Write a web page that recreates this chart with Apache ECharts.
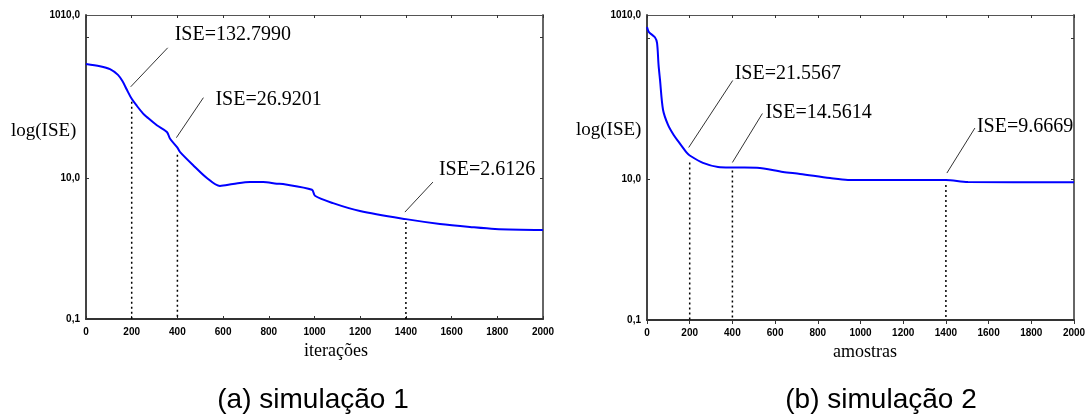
<!doctype html>
<html lang="pt">
<head>
<meta charset="utf-8"/>
<title>log(ISE) — simulação 1 e 2</title>
<style>
  html, body { margin: 0; padding: 0; background: #fff; }
  #chart { width: 1090px; height: 419px; }
</style>
</head>
<body>
<div id="chart"></div>
<script src="https://cdn.jsdelivr.net/npm/echarts@6.0.0/dist/echarts.min.js"></script>
<script>
  // (a) simulação 1 — ISE per iteration
  const iterA = [0, 61, 105, 140, 160, 179, 200, 223, 250, 267, 310, 354, 368, 400, 411,
    468, 529, 586, 643, 718, 775, 835, 862, 989, 1002, 1081, 1199, 1400, 1549, 1680, 1790, 2000];
  const iseA = [414, 385, 350, 290, 235, 178, 132.8, 105, 82, 73, 56, 45, 36, 26.92, 23.5,
    15.3, 10, 7.7, 8.2, 8.8, 8.8, 8.3, 8.2, 6.8, 5.6, 4.4, 3.4, 2.61, 2.23, 2.02, 1.89, 1.83];

  // (b) simulação 2 — ISE per sample
  const sampB = [0, 9, 37, 47, 54, 61, 75, 98, 125, 150, 187, 200, 262, 333, 400, 515,
    637, 717, 857, 941, 1400, 1503, 2000];
  const iseB = [1432, 1216, 1025, 850, 420, 254, 96, 59, 42, 33, 23.4, 21.56, 16.9, 14.8, 14.56, 14.5,
    12.6, 11.8, 10.3, 9.7, 9.67, 9.06, 9.0];

  // annotated points
  const annA_x = [200, 400, 1400];
  const annA_v = [132.7990, 26.9201, 2.6126];
  const annA_txt = ["ISE=132.7990", "ISE=26.9201", "ISE=2.6126"];
  const annB_x = [200, 400, 1400];
  const annB_v = [21.5567, 14.5614, 9.6669];
  const annB_txt = ["ISE=21.5567", "ISE=14.5614", "ISE=9.6669"];

  const yLabelA = [0.1, 10, 2050];
  const yLabelB = [0.1, 10, 2120];
  const yTicks = [10, 1000];

  // pixel offsets for the callouts: [leader start dx,dy, leader end dx,dy, text dx,dy, dotted gap]
  const offA = [[-1, -12, 36, -51, 43, -64, 3], [-1, -10, 26, -50, 38, -48, 7], [-1, -7, 27, -37, 33, -49, 3]];
  const offB = [[-1, -8, 43, -75, 45, -82, 7], [0, -5, 30, -54, 33, -55, 3], [1, -7, 29, -52, 31, -53, 5]];

  const NARROW = '"Liberation Sans Narrow", "Arial Narrow", "Liberation Sans", Arial, sans-serif';
  const SANS = '"Liberation Sans", Arial, sans-serif';
  const SERIF = '"Liberation Serif", "Times New Roman", serif';

  const fmtY = (v) => (v > 1500 ? "1010,0" : Number(v).toFixed(1).replace(".", ","));

  const xBottom = (gi, tickOut) => ({
    type: "value", gridIndex: gi, position: "bottom", min: 0, max: 2000, interval: 200,
    axisLine: { show: true, onZero: false, lineStyle: { color: "#333", width: 2 } },
    axisTick: { show: true, inside: !tickOut, length: tickOut ? 4 : 3, lineStyle: { color: "#333" } },
    axisLabel: { color: "#000", fontFamily: NARROW, fontSize: 10, fontWeight: "bold", margin: 8,
                 formatter: (v) => String(v) },
    splitLine: { show: false },
  });
  const xTop = (gi) => ({
    type: "value", gridIndex: gi, position: "top", min: 0, max: 2000, interval: 200,
    axisLine: { show: true, onZero: false, lineStyle: { color: "#555", width: 1 } },
    axisTick: { show: true, inside: true, length: 3, lineStyle: { color: "#333" } },
    axisLabel: { show: false },
    splitLine: { show: false },
  });
  const yLeft = (gi, max, labels) => ({
    type: "log", logBase: 10, gridIndex: gi, position: "left", min: 0.1, max: max,
    axisLine: { show: true, onZero: false, lineStyle: { color: "#444", width: 2 } },
    axisTick: { show: true, inside: true, length: 3, customValues: yTicks, lineStyle: { color: "#333" } },
    axisLabel: { customValues: labels, formatter: fmtY, color: "#000", fontFamily: SANS,
                 fontSize: 10, fontWeight: "bold", margin: 6 },
    splitLine: { show: false }, minorTick: { show: false },
  });
  const yRight = (gi, max) => ({
    type: "log", logBase: 10, gridIndex: gi, position: "right", min: 0.1, max: max,
    axisLine: { show: true, onZero: false, lineStyle: { color: "#666", width: 2 } },
    axisTick: { show: true, inside: true, length: 3, customValues: yTicks, lineStyle: { color: "#333" } },
    axisLabel: { show: false },
    splitLine: { show: false },
  });

  const pairs = (xs, ys) => xs.map((x, i) => [x, ys[i]]);

  const chart = echarts.init(document.getElementById("chart"));
  chart.setOption({
    animation: false,
    backgroundColor: "#fff",
    grid: [
      { left: 86, top: 15, width: 457, height: 304 },
      { left: 647, top: 15, width: 427, height: 305 },
    ],
    xAxis: [xBottom(0, false), xTop(0), xBottom(1, true), xTop(1)],
    yAxis: [yLeft(0, 2050, yLabelA), yRight(0, 2050), yLeft(1, 2120, yLabelB), yRight(1, 2120)],
    series: [
      { type: "line", xAxisIndex: 0, yAxisIndex: 0, data: pairs(iterA, iseA), showSymbol: false,
        smooth: 0.3, lineStyle: { color: "#0000ff", width: 2 }, z: 3 },
      { type: "line", xAxisIndex: 2, yAxisIndex: 2, data: pairs(sampB, iseB), showSymbol: false,
        smooth: 0.3, lineStyle: { color: "#0000ff", width: 2 }, z: 3 },
    ],
  });

  // callouts: dotted drop lines, leader lines and ISE labels, placed via the axes
  function callouts(gi, xs, vs, txts, offs) {
    const out = [];
    xs.forEach((x, i) => {
      const p = chart.convertToPixel({ gridIndex: gi }, [x, vs[i]]);
      const b = chart.convertToPixel({ gridIndex: gi }, [x, 0.1]);
      const o = offs[i];
      out.push({ type: "line", z: 10, silent: true,
        shape: { x1: p[0], y1: p[1] + o[6], x2: b[0], y2: b[1] },
        style: { stroke: "#000", lineWidth: 1.5, lineDash: [2, 3] } });
      out.push({ type: "line", z: 10, silent: true,
        shape: { x1: p[0] + o[0], y1: p[1] + o[1], x2: p[0] + o[2], y2: p[1] + o[3] },
        style: { stroke: "#333", lineWidth: 1 } });
      out.push({ type: "text", z: 10, silent: true,
        style: { text: txts[i], x: p[0] + o[4], y: p[1] + o[5], fill: "#000", font: "20px " + SERIF,
                 align: "left", verticalAlign: "middle", textAlign: "left", textVerticalAlign: "middle" } });
    });
    return out;
  }
  const txt = (text, x, y, font, align) => ({
    type: "text", z: 10, silent: true,
    style: { text, x, y, fill: "#000", font, align: align || "center", verticalAlign: "middle",
             textAlign: align || "center", textVerticalAlign: "middle" },
  });

  chart.setOption({
    graphic: [
      ...callouts(0, annA_x, annA_v, annA_txt, offA),
      ...callouts(1, annB_x, annB_v, annB_txt, offB),
      txt("log(ISE)", 11, 131, "19px " + SERIF, "left"),
      txt("log(ISE)", 576, 130, "19px " + SERIF, "left"),
      txt("iterações", 336, 351, "18px " + SERIF),
      txt("amostras", 865, 352, "18px " + SERIF),
      txt("(a) simulação 1", 313, 400, "28px " + SANS),
      txt("(b) simulação 2", 881, 400, "28px " + SANS),
    ],
  });
</script>
</body>
</html>
